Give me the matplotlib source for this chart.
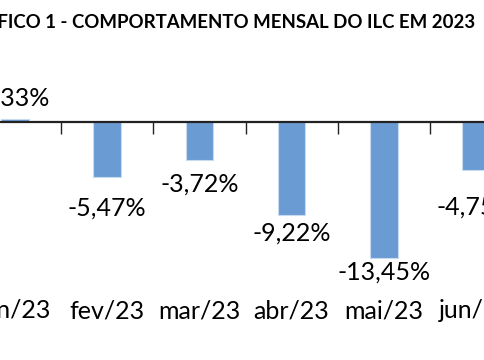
import numpy as np
import matplotlib
matplotlib.use('Agg')
import matplotlib.pyplot as plt
from matplotlib.ticker import FixedLocator

plt.rcParams['font.family'] = ['Lato', 'DejaVu Sans']

# data
months = ['jan/23', 'fev/23', 'mar/23', 'abr/23', 'mai/23', 'jun/23']
ilc = [0.33, -5.47, -3.72, -9.22, -13.45, -4.75]
# label offsets from bar end, in points (labels were hand placed)
label_off = [15, -22, -18, -13, -10, -27]

title = 'GRÁFICO 1 - COMPORTAMENTO MENSAL DO ILC EM 2023'

bar_color = '#6a9bd3'

fig = plt.figure(figsize=(4.85, 3.6), dpi=100)
# chart is cropped in the reference, so the axes run past the canvas
ax = fig.add_axes([-0.0641, 0.1006, 1.1406, 0.6727])

x = np.arange(len(months))
ax.bar(x, ilc, width=0.30, color=bar_color, edgecolor='#c9dbf0', linewidth=0.8, zorder=2)

for xi, v, off in zip(x, ilc, label_off):
    lab = '{:.2f}%'.format(v).replace('.', ',')
    ax.annotate(lab, (xi, v), xytext=(0, off), textcoords='offset points',
                ha='center', va='center', fontsize=18)

ax.set_xlim(-0.5, 5.5)
ax.set_ylim(-20, 4)

for s in ['top', 'right', 'left']:
    ax.spines[s].set_visible(False)
ax.spines['bottom'].set_position(('data', 0))
ax.spines['bottom'].set_color('#222222')
ax.spines['bottom'].set_linewidth(1.6)
ax.spines['bottom'].set_zorder(3)

ax.set_yticks([])
ax.set_xticks(x, months)
ax.xaxis.set_minor_locator(FixedLocator(np.arange(-0.5, 6, 1)))
ax.tick_params(axis='x', which='major', length=0, pad=127.5, labelsize=18)
ax.tick_params(axis='x', which='minor', length=8.5, width=1, color='#222222')

fig.text(475 / 485, 0.938, title, ha='right', va='center', fontsize=13.4, fontweight='bold')

fig.savefig('out.png', dpi=100)
